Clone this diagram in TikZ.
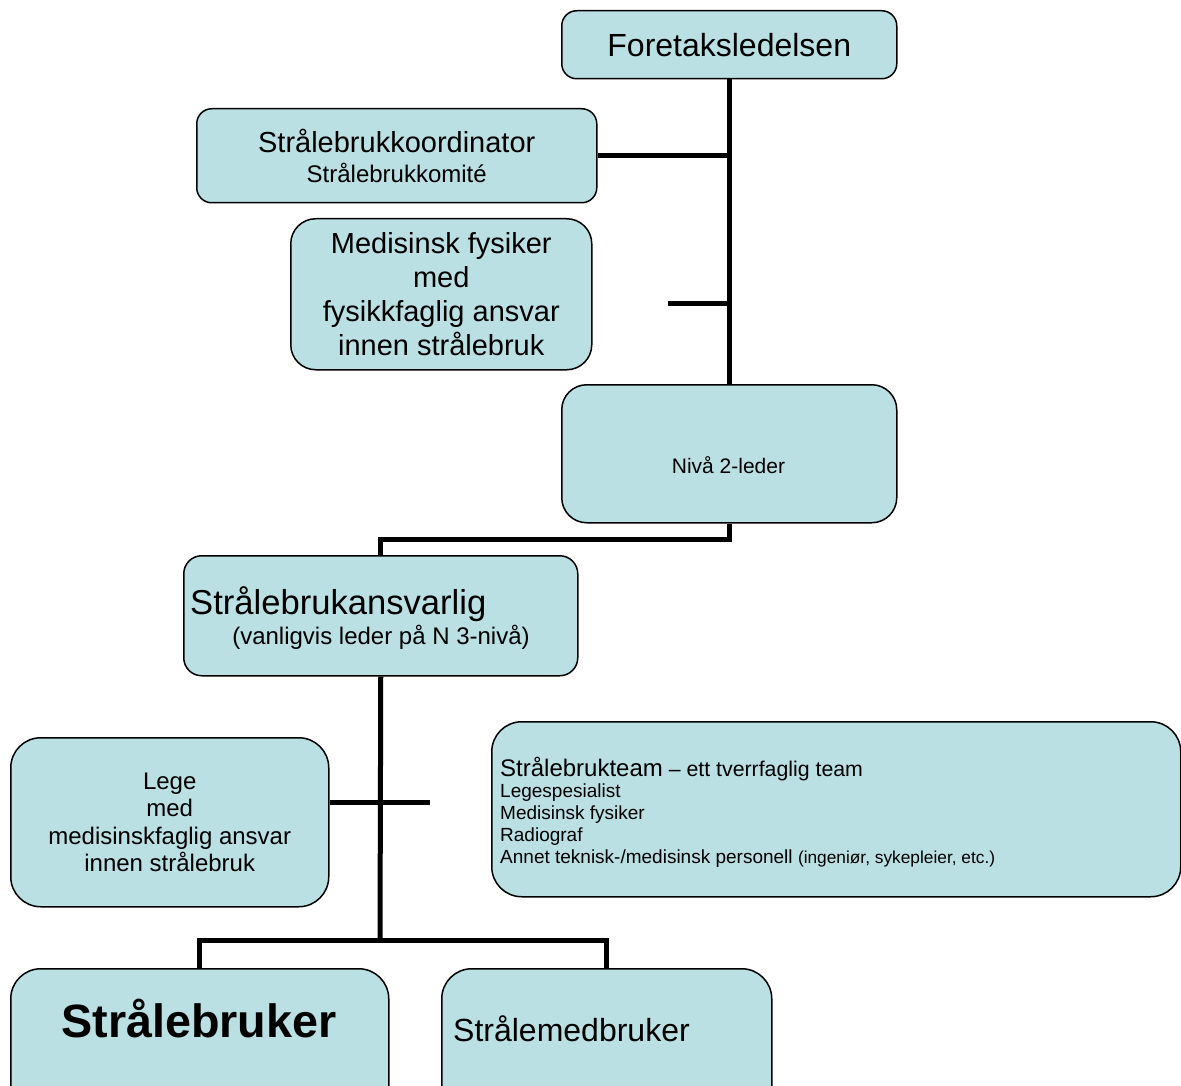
\documentclass[tikz,border=0pt]{standalone}
\usepackage{fontspec}
\setmainfont{Liberation Sans}
\definecolor{boxfill}{RGB}{186,224,227}
\newcommand{\fsz}[2]{\fontsize{#1}{#2}\selectfont}
\begin{document}
\begin{tikzpicture}[x=1pt,y=-1pt,
 box/.style={draw=black, line width=1.5pt, fill=boxfill, rounded corners=#1, anchor=north west, inner sep=0pt, align=center},
 box/.default=15pt,
 conn/.style={line width=5pt},
 txt/.style={inner sep=0pt, anchor=base}]
\clip (0,0) rectangle (1181,1086);
\useasboundingbox (0,0) rectangle (1181,1086);
% boxes
\node[box, minimum width=335pt, minimum height=68pt, font=\fsz{32}{36}] (fore) at (561,10) {Foretaksledelsen};
\node[box, minimum width=400pt, minimum height=94pt, font=\fsz{24}{30}] (koord) at (196,108) {{\fsz{29}{30}Strålebrukkoordinator}\\Strålebrukkomité};
\node[box=25pt, minimum width=301pt, minimum height=151pt, font=\fsz{29}{34}] (fys) at (290,218) {Medisinsk fysiker\\med\\fysikkfaglig ansvar\\innen strålebruk};
\node[box=25pt, minimum width=335pt, minimum height=138pt] (niva) at (561,384) {};
\node[txt, font=\fsz{21}{24}] (nivatxt) at (728.5,473) {Nivå 2-leder};
\node[box=18pt, minimum width=394pt, minimum height=120pt] (ansvar) at (183,555) {};
\node[txt, anchor=base west, font=\fsz{34.6}{38}] (ansvartxt) at (190,614) {Strålebrukansvarlig};
\node[txt, font=\fsz{24}{28}] (ansvarsub) at (381,644) {(vanligvis leder på N 3-nivå)};
\node[box=30pt, minimum width=318pt, minimum height=169pt, font=\fsz{24}{27.5}] (lege) at (10,737) {Lege\\med\\medisinskfaglig ansvar\\innen strålebruk};
\node[box=30pt, minimum width=689pt, minimum height=175pt] (team) at (491,721) {};
\node[txt, anchor=base west, align=left, font=\fsz{19}{21.7}] (teamtxt) at (500,863) {{\fsz{24}{21.7}Strålebrukteam}{\fsz{21.3}{21.7} – ett tverrfaglig team}\\Legespesialist\\Medisinsk fysiker\\Radiograf\\Annet teknisk-/medisinsk personell {\fsz{17.3}{21.7}(ingeniør, sykepleier, etc.)}};
\node[box=30pt, minimum width=378pt, minimum height=150pt] (bruker) at (10,968) {};
\node[txt, font=\fsz{46.7}{50}\bfseries] (brukertxt) at (199,1037) {Strålebruker};
\node[box=30pt, minimum width=330pt, minimum height=150pt] (medbruker) at (441,968) {};
\node[txt, anchor=base west, font=\fsz{32}{36}] (medbrukertxt) at (453,1041) {Strålemedbruker};
% connectors
\draw[conn] (fore.south) -- (niva.north);
\draw[conn] (koord.east) -- (koord.east -| fore.south);
\coordinate (stubA) at (668,303);
\draw[conn] (stubA) -- (stubA -| fore.south);
\draw[conn] (niva.south) -- ++(0,16) -| (ansvar.north);
\coordinate (split) at (380,940);
\draw[conn] (ansvar.south) -- (split);
\draw[conn] (bruker.north) |- (split) -| (medbruker.north);
\coordinate (stubB) at (430,802);
\draw[conn] (lege.east |- stubB) -- (stubB);
\end{tikzpicture}
\end{document}
